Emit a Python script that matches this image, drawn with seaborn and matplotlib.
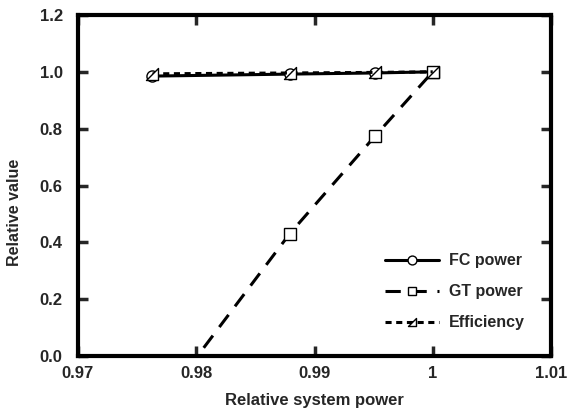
import numpy as np
import pandas as pd
import matplotlib
matplotlib.use("Agg")
import matplotlib.pyplot as plt
from matplotlib.path import Path
import seaborn as sns

x_power = [0.9763, 0.9879, 0.9951, 1.0]
fc_power = [0.985, 0.992, 0.996, 1.0]
gt_power = [-0.21, 0.43, 0.773, 1.0]
efficiency = [0.993, 0.996, 0.998, 1.0]

sns.set_style("ticks")
plt.rcParams['font.family'] = ['Liberation Sans', 'DejaVu Sans']
plt.rcParams['font.weight'] = 'bold'

fig = plt.figure(figsize=(5.69, 4.09), dpi=100)
ax = fig.add_axes([78/569, 1-356/409, (551-78)/569, (356-15)/409])

tri = Path([(-1, -1), (1, -1), (1, 1), (-1, -1)],
           [Path.MOVETO, Path.LINETO, Path.LINETO, Path.CLOSEPOLY])

df = pd.DataFrame({"x": x_power, "fc": fc_power, "gt": gt_power, "eff": efficiency})

common = dict(color="black", lw=2.2, markerfacecolor="white",
              markeredgecolor="black", markeredgewidth=1)
sns.lineplot(data=df, x="x", y="fc", ax=ax, marker="o", markersize=8,
             linestyle="-", **common)
sns.lineplot(data=df, x="x", y="gt", ax=ax, marker="s", markersize=8,
             linestyle=(0, (5, 3.5)), **common)
sns.lineplot(data=df, x="x", y="eff", ax=ax, marker=tri, markersize=8,
             linestyle=(0, (2, 1.5)), **common)

ax.set_xlim(0.97, 1.01)
ax.set_ylim(0, 1.2)
ax.set_xticks([0.97, 0.98, 0.99, 1.0, 1.01])
ax.set_xticklabels(["0.97", "0.98", "0.99", "1", "1.01"])
ax.set_yticks([0, 0.2, 0.4, 0.6, 0.8, 1.0, 1.2])
ax.set_yticklabels(["0.0", "0.2", "0.4", "0.6", "0.8", "1.0", "1.2"])
ax.tick_params(direction="in", length=7, width=2.5, top=True, right=True,
               labelsize=12)
ax.tick_params(axis="x", pad=7)
ax.tick_params(axis="y", pad=11)
for lab in ax.get_xticklabels() + ax.get_yticklabels():
    lab.set_fontweight("bold")
for s in ax.spines.values():
    s.set_linewidth(3)
    s.set_color("black")

ax.set_xlabel("Relative system power", fontsize=12, fontweight="bold")
ax.set_ylabel("Relative value", fontsize=11.5, fontweight="bold")
ax.xaxis.set_label_coords(0.5, -0.108)
ax.yaxis.set_label_coords(-0.118, 0.42)

lines = ax.get_lines()
leg = ax.legend(lines[:3], ["FC power", "GT power", "Efficiency"],
                loc="lower left", bbox_to_anchor=(0.649, 0.075),
                frameon=False, handlelength=3.4, handletextpad=0.6,
                labelspacing=1.0, borderpad=0, borderaxespad=0,
                markerscale=0.8, prop={"weight": "bold", "size": 11.5})

fig.savefig("out.png", dpi=100)
